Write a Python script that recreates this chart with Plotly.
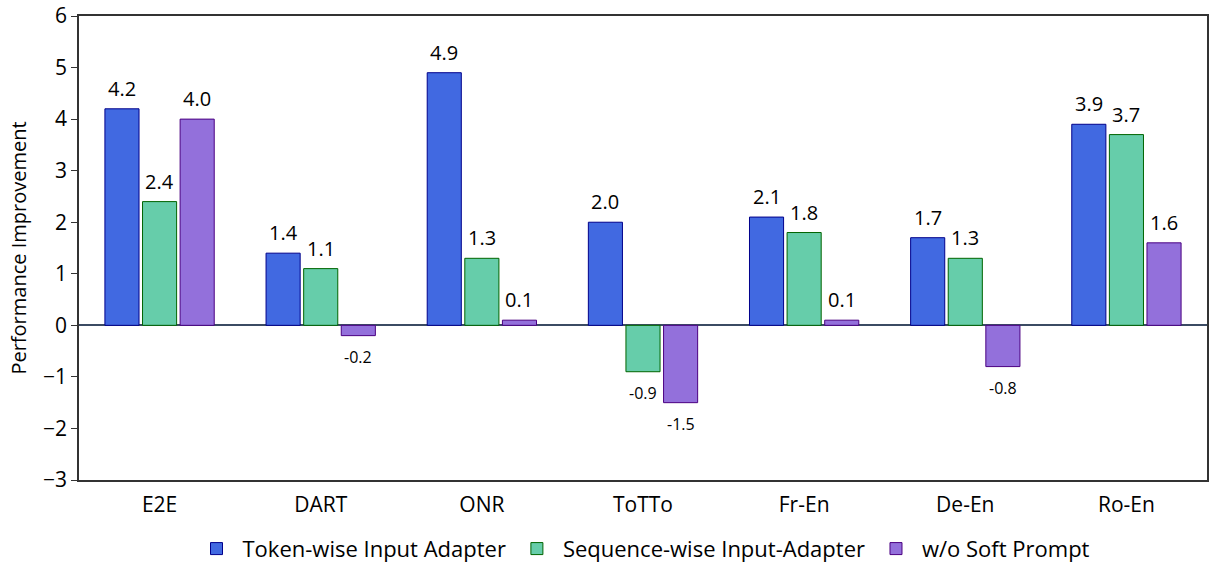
import plotly.graph_objects as go

categories = ["E2E", "DART", "ONR", "ToTTo", "Fr-En", "De-En", "Ro-En"]
token_wise = [4.2, 1.4, 4.9, 2.0, 2.1, 1.7, 3.9]
sequence_wise = [2.4, 1.1, 1.3, -0.9, 1.8, 1.3, 3.7]
wo_soft_prompt = [4.0, -0.2, 0.1, -1.5, 0.1, -0.8, 1.6]
series_names = ["Token-wise Input Adapter", "Sequence-wise Input-Adapter", "w/o Soft Prompt"]
y_ticks = [-3, -2, -1, 0, 1, 2, 3, 4, 5, 6]

fills = ["#4169E1", "#66CDAA", "#9370DB"]
edges = ["#00008B", "#006400", "#4B0082"]
FONT = "Open Sans"
BARGAP = 0.30
GROUPGAP = 0.093

all_series = [token_wise, sequence_wise, wo_soft_prompt]
fig = go.Figure()
for name, vals, fc, ec in zip(series_names, all_series, fills, edges):
    fig.add_trace(go.Bar(
        x=categories, y=vals, name=name,
        marker=dict(color=fc, line=dict(color=ec, width=1)),
    ))

# value labels placed over each bar via the category axis (index + group offset)
slot = (1 - BARGAP) / len(all_series)
annotations = []
for j, vals in enumerate(all_series):
    off = (j - (len(all_series) - 1) / 2) * slot
    for i, v in enumerate(vals):
        pos = v >= 0
        annotations.append(dict(
            x=i + off, y=v, xref="x", yref="y", text=f"{v:.1f}", showarrow=False,
            yanchor="bottom" if pos else "top", yshift=5 if pos else -8,
            font=dict(family=FONT, color="#000000", size=20 if pos else 16),
        ))

fig.update_layout(
    width=1214, height=564,
    margin=dict(l=79, r=7, t=16, b=84, autoexpand=False),
    paper_bgcolor="white", plot_bgcolor="white",
    barmode="group", bargap=BARGAP, bargroupgap=GROUPGAP,
    font=dict(family=FONT, color="#000000", size=18),
    annotations=annotations,
    xaxis=dict(showline=True, linecolor="#333333", linewidth=1.5, mirror=True,
               tickfont=dict(size=21), ticks="outside", ticklen=5,
               tickcolor="rgba(0,0,0,0)", automargin=False),
    yaxis=dict(range=[-3, 6], tickvals=y_ticks, showline=True, linecolor="#333333",
               linewidth=1.5, mirror=True, ticks="outside", ticklen=6, tickcolor="#333333",
               showgrid=False, zeroline=True, zerolinecolor="#3B4B63", zerolinewidth=2,
               tickfont=dict(size=21), automargin=False,
               title=dict(text="Performance Improvement", font=dict(size=20), standoff=11)),
    legend=dict(orientation="h", x=0.5, xanchor="center", y=-0.103, yanchor="top",
                font=dict(size=22), itemwidth=42),
)

fig.write_html("out.html", config={"displayModeBar": False},
               post_script="document.body.style.margin='0';")
